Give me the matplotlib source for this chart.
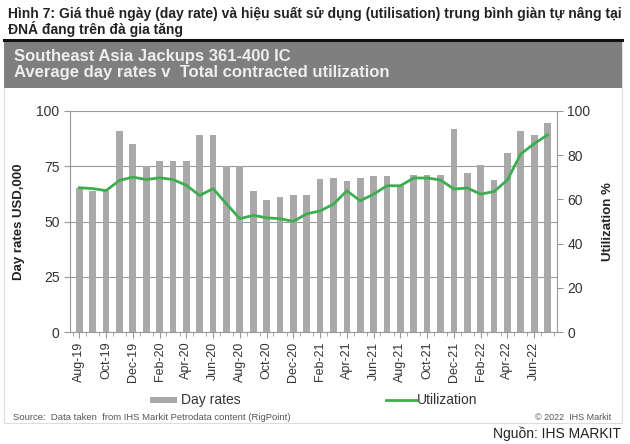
import matplotlib.pyplot as plt
import numpy as np
from matplotlib.patches import Rectangle
from matplotlib.lines import Line2D

plt.rcParams['font.family'] = ['Liberation Sans', 'DejaVu Sans']

months = ['Aug-19', 'Sep-19', 'Oct-19', 'Nov-19', 'Dec-19', 'Jan-20', 'Feb-20', 'Mar-20', 'Apr-20',
          'May-20', 'Jun-20', 'Jul-20', 'Aug-20', 'Sep-20', 'Oct-20', 'Nov-20', 'Dec-20', 'Jan-21',
          'Feb-21', 'Mar-21', 'Apr-21', 'May-21', 'Jun-21', 'Jul-21', 'Aug-21', 'Sep-21', 'Oct-21',
          'Nov-21', 'Dec-21', 'Jan-22', 'Feb-22', 'Mar-22', 'Apr-22', 'May-22', 'Jun-22', 'Jul-22']

day_rates = [65, 64, 64, 91, 85, 75, 77.4, 77.4, 77.4, 89.3, 89.3, 75, 75, 64, 59.6, 61, 62, 62,
             69.2, 69.5, 68.2, 69.5, 70.8, 70.8, 66, 71.2, 71.2, 71.2, 91.7, 71.8, 75.8, 68.8,
             81, 90.9, 89.2, 94.5]

utilization = [65.3, 64.9, 64, 68.6, 70.1, 69, 69.8, 69, 66.4, 61.8, 64.9, 58, 51.3, 52.8, 51.7,
               51.3, 50.1, 53.5, 54.8, 57.9, 63.9, 59.4, 62.4, 66.2, 66.2, 69.7, 69.7, 68.8, 64.7,
               65.2, 62.4, 63.6, 68.8, 80.6, 85.2, 89.2]

bar_color = '#a9a9a9'
line_color = '#3dae4f'

fig = plt.figure(figsize=(6.3, 4.44), dpi=100)

# caption
fig.text(0.012, 0.985, 'Hình 7: Giá thuê ngày (day rate) và hiệu suất sử dụng (utilisation) trung bình giàn tự nâng tại\nĐNÁ đang trên đà gia tăng',
         ha='left', va='top', fontsize=10, fontweight='bold', color='#222222', linespacing=1.05)

# panel border
fig.patches.append(Rectangle((0.007, 0.047), 0.98, 0.862, transform=fig.transFigure,
                             facecolor='white', edgecolor='#dddddd', lw=0.8, zorder=-10))
# gray header band
fig.patches.append(Rectangle((0.007, 0.802), 0.98, 0.107, transform=fig.transFigure,
                             facecolor='#7f7f7f', edgecolor='none', zorder=-5))
fig.add_artist(Line2D([0.006, 0.988], [0.91, 0.91], transform=fig.transFigure, color='#111111', lw=2.2))
fig.text(0.022, 0.872, 'Southeast Asia Jackups 361-400 IC', ha='left', va='center',
         fontsize=12, fontweight='bold', color='#eeeeee')
fig.text(0.022, 0.836, 'Average day rates v  Total contracted utilization', ha='left', va='center',
         fontsize=12, fontweight='bold', color='#eeeeee')

ax = fig.add_axes([0.111, 0.252, 0.773, 0.498])
x = np.arange(len(months))
ax.bar(x, day_rates, width=0.5, color=bar_color, zorder=2)
ax.set_xlim(-0.7, len(months) - 0.3)
ax.set_ylim(0, 100)
ax.set_yticks([0, 25, 50, 75, 100])
ax.grid(axis='y', color='#9a9a9a', lw=0.8, zorder=0)
ax.set_axisbelow(True)
ax.set_xticks(x[::2])
ax.set_xticklabels(months[::2], rotation=90, fontsize=9, color='#333333')
ax.set_xticks(np.arange(-0.5, len(months), 1), minor=True)
ax.tick_params(axis='x', which='major', length=4, color='#999999', pad=3)
ax.tick_params(axis='x', which='minor', length=3, color='#999999')
ax.tick_params(axis='y', length=4, color='#999999', labelsize=10, labelcolor='#333333')
ax.set_ylabel('Day rates USD,000', fontsize=9.5, fontweight='bold', color='#222222', labelpad=8)
for s in ['top', 'right']:
    ax.spines[s].set_visible(False)
for s in ['left', 'bottom']:
    ax.spines[s].set_color('#999999')

ax2 = ax.twinx()
ax2.plot(x, utilization, color=line_color, lw=2, zorder=3)
ax2.set_ylim(0, 100)
ax2.set_yticks([0, 20, 40, 60, 80, 100])
ax2.tick_params(axis='y', length=4, color='#999999', labelsize=10, labelcolor='#333333')
ax2.set_ylabel('Utilization %', fontsize=9.5, fontweight='bold', color='#222222', labelpad=8)
for s in ['top', 'left', 'bottom']:
    ax2.spines[s].set_visible(False)
ax2.spines['right'].set_color('#999999')

# legend
fig.add_artist(Rectangle((0.238, 0.093), 0.043, 0.012, transform=fig.transFigure,
                         facecolor=bar_color, edgecolor='none'))
fig.text(0.287, 0.099, 'Day rates', ha='left', va='center', fontsize=10, color='#333333')
fig.add_artist(Line2D([0.612, 0.66], [0.099, 0.099], transform=fig.transFigure, color=line_color, lw=2))
fig.text(0.662, 0.099, 'Utilization', ha='left', va='center', fontsize=10, color='#333333')

fig.text(0.02, 0.059, 'Source:  Data taken  from IHS Markit Petrodata content (RigPoint)', ha='left', va='center',
         fontsize=6.8, color='#555555')
fig.text(0.97, 0.059, '© 2022  IHS Markit', ha='right', va='center', fontsize=6.5, color='#555555')

fig.text(0.985, 0.024, 'Nguồn: IHS MARKIT', ha='right', va='center', fontsize=10, color='#222222')

fig.savefig('out.png', dpi=100)
